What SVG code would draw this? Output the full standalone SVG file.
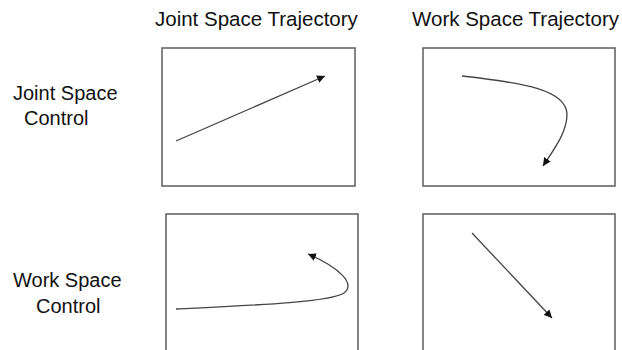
<svg xmlns="http://www.w3.org/2000/svg" width="622" height="350" viewBox="0 0 622 350">
<style>
.t{font-family:"Liberation Sans",Arial,sans-serif;font-size:20px;fill:#111}
.h{font-size:20.5px}
.box{fill:#fff;stroke:#666;stroke-width:1.6}
.c{fill:none;stroke:#444;stroke-width:1.3}
</style>
<defs>
<marker id="ah" viewBox="0 0 10 10" refX="10" refY="5" markerWidth="8" markerHeight="8" markerUnits="userSpaceOnUse" orient="auto">
<path d="M0,0 L10,5 L0,10 z" fill="#111"/>
</marker>
</defs>
<rect width="622" height="350" fill="#fff"/>
<g id="labels">
<text class="t h" x="155" y="26">Joint Space Trajectory</text>
<text class="t h" x="412" y="26">Work Space Trajectory</text>
<text class="t" x="13" y="100">Joint Space</text>
<text class="t" x="24" y="125">Control</text>
<text class="t" x="13" y="287">Work Space</text>
<text class="t" x="36" y="313">Control</text>
</g>
<g id="box-js-jt"><rect class="box" x="162" y="48" width="193" height="138"/></g>
<g id="box-js-wt"><rect class="box" x="423" y="48" width="192" height="138"/></g>
<g id="box-ws-jt"><rect class="box" x="166" y="214" width="192" height="150"/></g>
<g id="box-ws-wt"><rect class="box" x="423" y="214" width="192" height="150"/></g>
<g id="connectors">
<path class="c" d="M176,141 L325,76" marker-end="url(#ah)"/>
<path class="c" d="M462,76 C525,83 566,90 567,114 C567,132 555,148 543,166" marker-end="url(#ah)"/>
<path class="c" d="M176,309 C260,305 330,302 344,293 C356,284 340,268 308,254" marker-end="url(#ah)"/>
<path class="c" d="M472,233 L552,318" marker-end="url(#ah)"/>
</g>
</svg>
